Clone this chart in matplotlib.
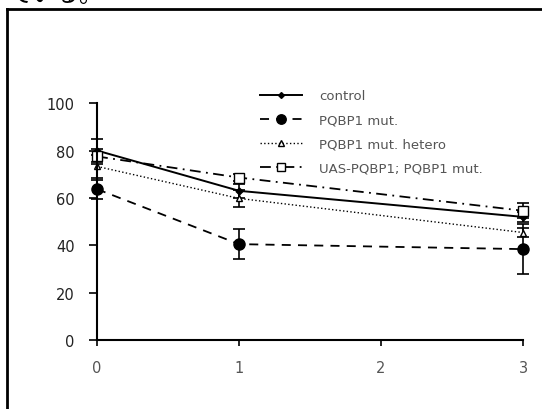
import matplotlib.pyplot as plt
from matplotlib.lines import Line2D

plt.rcParams['font.family'] = ['DejaVu Sans', 'Noto Sans CJK JP']

# data
days = [0, 1, 3]
names = ['control', 'PQBP1 mut.', 'PQBP1 mut. hetero', 'UAS-PQBP1; PQBP1 mut.']
control = [80, 63, 52]
control_err = [5, 3, 2.2]
mut = [63.7, 40.5, 38.4]
mut_err = [4, 6.2, 10.6]
hetero = [73.3, 59.8, 45.4]
hetero_err = [5, 3.5, 2]
uas = [77.5, 68.6, 54.6]
uas_err = [3, 1.6, 3.2]

fig = plt.figure(figsize=(5.42, 4.10), dpi=100)
ax = fig.add_axes([0.179, 0.168, 0.786, 0.578])

styles = [
    (control, control_err, dict(ls='-', lw=1.4, marker='D', ms=3.5, mfc='black')),
    (mut, mut_err, dict(ls=(0, (5, 4)), lw=1.3, marker='o', ms=8, mfc='black')),
    (hetero, hetero_err, dict(ls=':', lw=1.0, marker='^', ms=5, mfc='white')),
    (uas, uas_err, dict(ls=(0, (6, 3, 1, 3)), lw=1.3, marker='s', ms=7, mfc='white')),
]
for (vals, errs, st), name in zip(styles, names):
    ax.errorbar(days, vals, yerr=errs, fmt='none', ecolor='black', elinewidth=1.2,
                capsize=4, capthick=1.2, clip_on=False)
    ax.plot(days, vals, color='black', mec='black', label=name, clip_on=False, **st)

ax.set_xlim(0, 3)
ax.set_ylim(0, 100)
ax.set_xticks([0, 1, 2, 3])
ax.set_yticks([0, 20, 40, 60, 80, 100])
ax.spines['top'].set_visible(False)
ax.spines['right'].set_visible(False)
ax.spines['left'].set_linewidth(1.5)
ax.spines['bottom'].set_linewidth(1.5)
ax.tick_params(axis='y', direction='out', length=6, width=1.2, labelsize=10.5,
               labelcolor='#222222', pad=10)
ax.tick_params(axis='x', direction='out', length=4, width=1.2, labelsize=10.5,
               labelcolor='#555555', pad=10)

leg = fig.legend(loc='upper left', bbox_to_anchor=(0.47, 0.793),
                 frameon=False, fontsize=9.5, handlelength=3.2, labelspacing=0.85,
                 handletextpad=1.3, borderaxespad=0, markerscale=0.85)
for t in leg.get_texts():
    t.set_color('#555555')

# frame and clipped caption above it
fig.add_artist(Line2D([0.013, 0.013], [0, 0.976], color='black', lw=2, transform=fig.transFigure))
fig.add_artist(Line2D([0.013, 1.0], [0.976, 0.976], color='black', lw=2, transform=fig.transFigure))
fig.text(0.015, 1.012, 'ている。', fontsize=17, va='center', ha='left',
         family=['Noto Sans CJK JP', 'DejaVu Sans'])

fig.savefig('out.png', dpi=100)
